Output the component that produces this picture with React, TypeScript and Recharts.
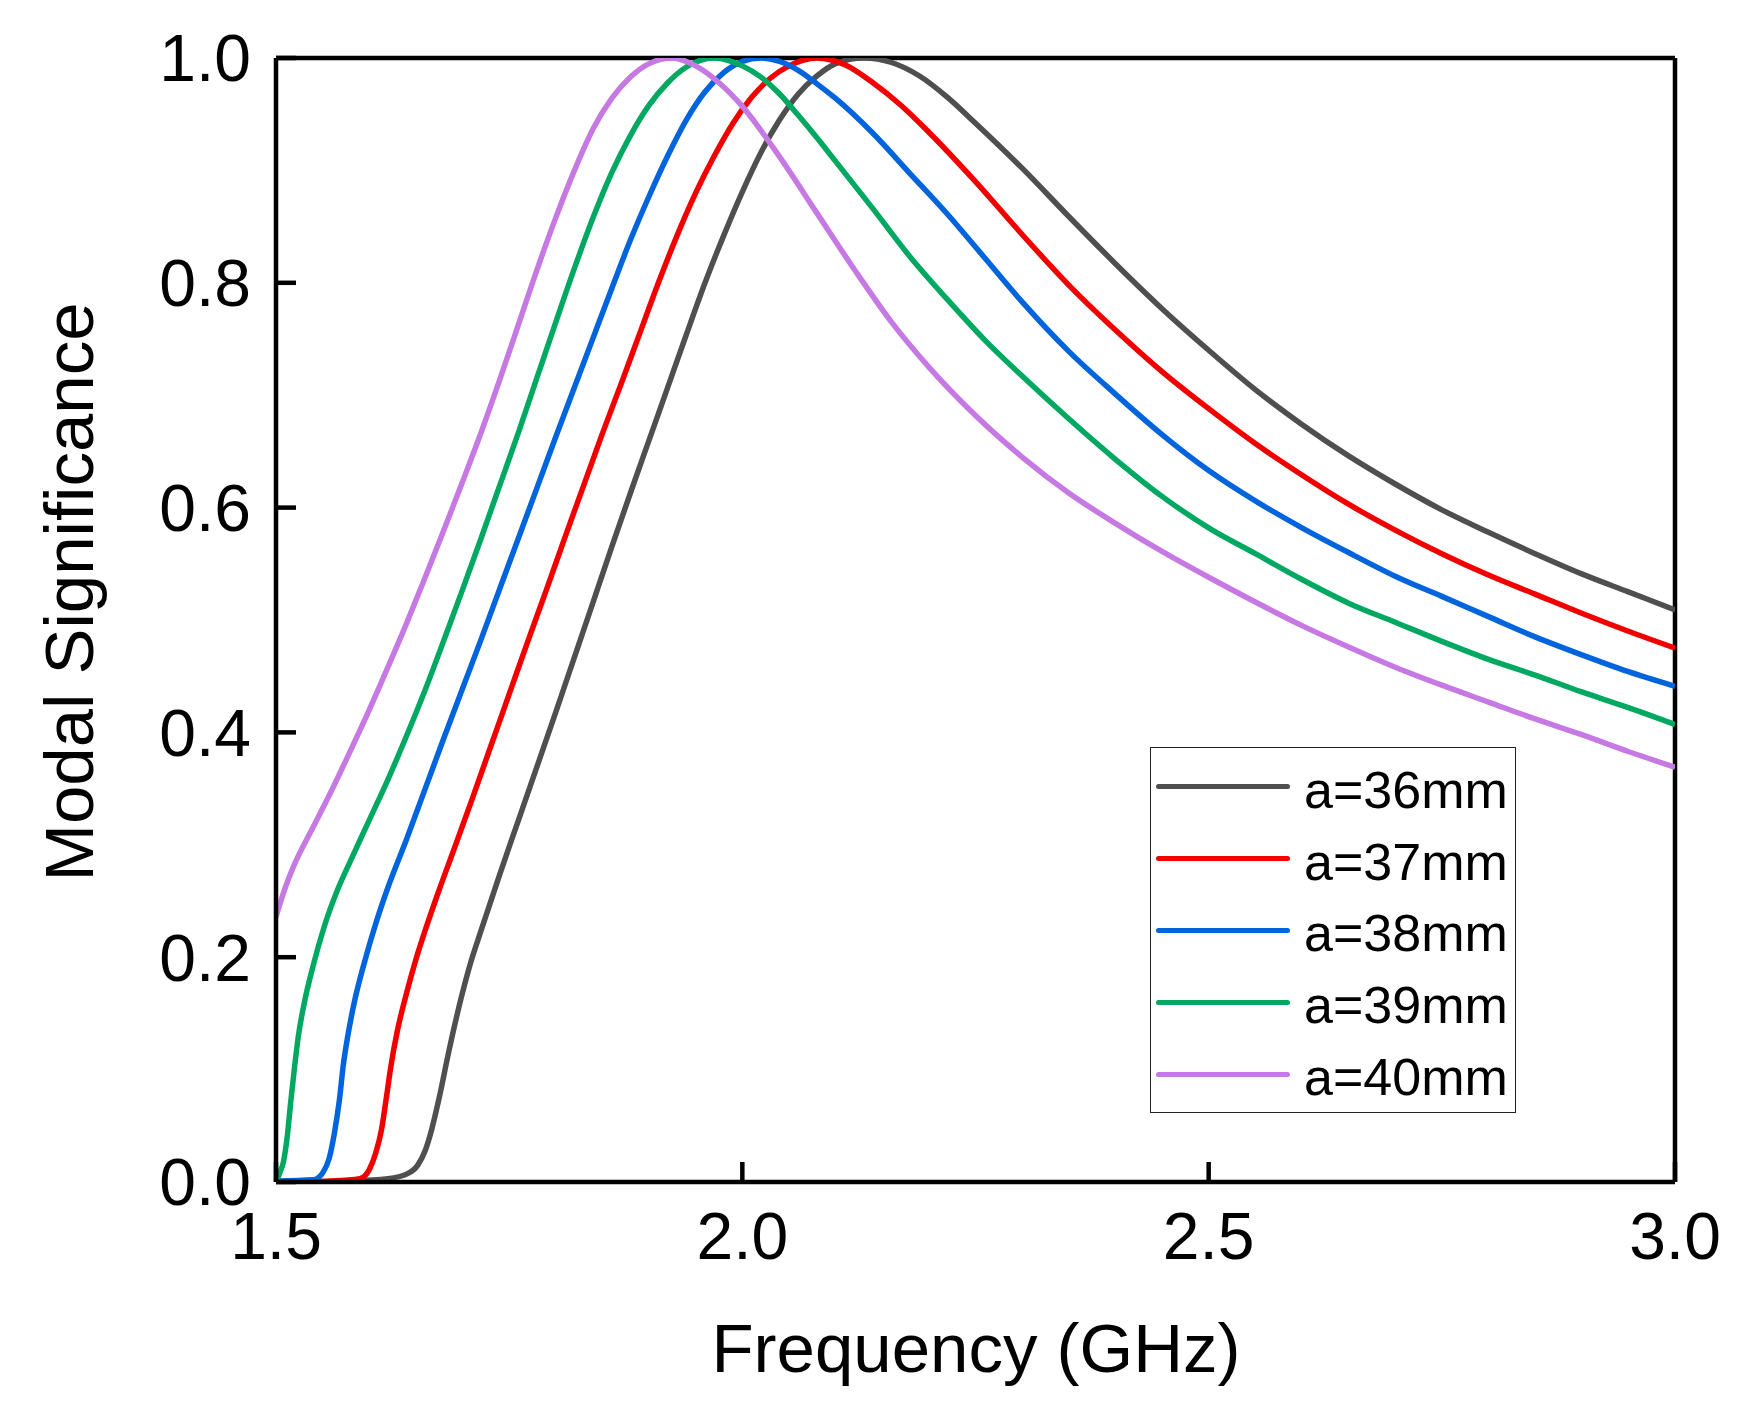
import React from "react";
import {
  LineChart,
  Line,
  XAxis,
  YAxis,
  Legend,
  ReferenceLine,
} from "recharts";

// Modal significance, one array pair per patch size
const freq36 = [1.5, 1.58, 1.62, 1.64, 1.652, 1.66, 1.667, 1.675, 1.685, 1.698, 1.709, 1.72, 1.74, 1.76, 1.78, 1.8, 1.82, 1.84, 1.86, 1.88, 1.9, 1.92, 1.94, 1.96, 1.98, 2.0, 2.02, 2.04, 2.06, 2.08, 2.1, 2.13, 2.16, 2.19, 2.22, 2.25, 2.3, 2.35, 2.4, 2.45, 2.5, 2.55, 2.6, 2.65, 2.7, 2.75, 2.8, 2.85, 2.9, 2.95, 3.0];
const ms36 = [0.0, 0.001, 0.003, 0.007, 0.015, 0.028, 0.047, 0.075, 0.115, 0.162, 0.196, 0.224, 0.274, 0.322, 0.37, 0.418, 0.467, 0.516, 0.565, 0.613, 0.66, 0.707, 0.754, 0.8, 0.842, 0.881, 0.916, 0.945, 0.968, 0.984, 0.995, 1.0, 0.996, 0.984, 0.965, 0.942, 0.902, 0.859, 0.817, 0.777, 0.74, 0.705, 0.674, 0.646, 0.621, 0.598, 0.578, 0.559, 0.541, 0.525, 0.509];

const freq37 = [1.5, 1.56, 1.59, 1.6, 1.607, 1.613, 1.618, 1.623, 1.63, 1.64, 1.65, 1.66, 1.675, 1.69, 1.71, 1.73, 1.75, 1.77, 1.79, 1.81, 1.83, 1.85, 1.87, 1.89, 1.91, 1.93, 1.95, 1.97, 1.99, 2.01, 2.03, 2.05, 2.08, 2.11, 2.14, 2.17, 2.2, 2.25, 2.3, 2.35, 2.4, 2.45, 2.5, 2.55, 2.6, 2.65, 2.7, 2.75, 2.8, 2.85, 2.9, 2.95, 3.0];
const ms37 = [0.0, 0.001, 0.003, 0.011, 0.026, 0.046, 0.073, 0.102, 0.134, 0.168, 0.198, 0.224, 0.26, 0.294, 0.34, 0.387, 0.434, 0.481, 0.527, 0.574, 0.62, 0.666, 0.71, 0.755, 0.8, 0.842, 0.88, 0.913, 0.942, 0.965, 0.982, 0.993, 1.0, 0.994, 0.978, 0.958, 0.934, 0.89, 0.843, 0.798, 0.758, 0.721, 0.688, 0.657, 0.629, 0.603, 0.58, 0.559, 0.54, 0.523, 0.506, 0.49, 0.475];

const freq38 = [1.5, 1.54, 1.55, 1.557, 1.5625, 1.568, 1.572, 1.577, 1.584, 1.595, 1.607, 1.62, 1.64, 1.66, 1.68, 1.7, 1.72, 1.74, 1.76, 1.78, 1.8, 1.82, 1.84, 1.86, 1.88, 1.9, 1.92, 1.94, 1.96, 1.98, 2.0, 2.02, 2.04, 2.06, 2.08, 2.1, 2.14, 2.18, 2.22, 2.26, 2.3, 2.35, 2.4, 2.45, 2.5, 2.55, 2.6, 2.65, 2.7, 2.75, 2.8, 2.85, 2.9, 2.95, 3.0];
const ms38 = [0.001, 0.002, 0.008, 0.021, 0.043, 0.073, 0.103, 0.13, 0.16, 0.196, 0.23, 0.262, 0.305, 0.35, 0.395, 0.439, 0.483, 0.528, 0.573, 0.618, 0.663, 0.707, 0.751, 0.795, 0.838, 0.877, 0.913, 0.945, 0.97, 0.987, 0.997, 1.0, 0.997, 0.989, 0.977, 0.964, 0.933, 0.897, 0.861, 0.822, 0.783, 0.739, 0.701, 0.665, 0.633, 0.606, 0.582, 0.56, 0.539, 0.521, 0.503, 0.485, 0.469, 0.454, 0.441];

const freq39 = [1.5, 1.504, 1.508, 1.512, 1.516, 1.52, 1.524, 1.53, 1.54, 1.552, 1.566, 1.58, 1.6, 1.62, 1.64, 1.66, 1.68, 1.7, 1.72, 1.74, 1.76, 1.78, 1.8, 1.82, 1.84, 1.86, 1.88, 1.9, 1.92, 1.94, 1.97, 2.0, 2.02, 2.04, 2.06, 2.08, 2.1, 2.14, 2.18, 2.22, 2.26, 2.3, 2.35, 2.4, 2.45, 2.5, 2.55, 2.6, 2.65, 2.7, 2.75, 2.8, 2.85, 2.9, 2.95, 3.0];
const ms39 = [0.0, 0.008, 0.018, 0.04, 0.073, 0.103, 0.13, 0.158, 0.193, 0.228, 0.26, 0.286, 0.322, 0.358, 0.397, 0.438, 0.482, 0.527, 0.573, 0.62, 0.667, 0.716, 0.765, 0.813, 0.858, 0.898, 0.931, 0.958, 0.978, 0.992, 1.0, 0.993, 0.983, 0.968, 0.949, 0.929, 0.908, 0.866, 0.823, 0.785, 0.749, 0.717, 0.679, 0.643, 0.61, 0.582, 0.559, 0.536, 0.515, 0.498, 0.481, 0.465, 0.451, 0.436, 0.422, 0.407];

const freq40 = [1.5, 1.51, 1.52, 1.54, 1.56, 1.58, 1.6, 1.62, 1.64, 1.66, 1.68, 1.7, 1.72, 1.74, 1.76, 1.78, 1.8, 1.82, 1.84, 1.86, 1.88, 1.9, 1.925, 1.95, 1.975, 2.0, 2.04, 2.08, 2.12, 2.16, 2.2, 2.25, 2.3, 2.35, 2.4, 2.45, 2.5, 2.55, 2.6, 2.65, 2.7, 2.75, 2.8, 2.85, 2.9, 2.95, 3.0];
const ms40 = [0.236, 0.262, 0.283, 0.316, 0.349, 0.384, 0.42, 0.458, 0.497, 0.538, 0.58, 0.623, 0.667, 0.714, 0.763, 0.812, 0.858, 0.9, 0.937, 0.964, 0.983, 0.995, 1.0, 0.993, 0.978, 0.957, 0.912, 0.862, 0.812, 0.765, 0.725, 0.682, 0.645, 0.613, 0.586, 0.561, 0.538, 0.516, 0.495, 0.476, 0.458, 0.442, 0.427, 0.412, 0.398, 0.383, 0.369];

const xTicks = [1.5, 2.0, 2.5, 3.0];
const yTicks = [0, 0.2, 0.4, 0.6, 0.8, 1.0];

const FONT = "'Liberation Sans', Arial, sans-serif";

const series = [
  { name: "a=36mm", color: "#4f4f4f", freq: freq36, ms: ms36 },
  { name: "a=37mm", color: "#f20000", freq: freq37, ms: ms37 },
  { name: "a=38mm", color: "#0064dc", freq: freq38, ms: ms38 },
  { name: "a=39mm", color: "#00a862", freq: freq39, ms: ms39 },
  { name: "a=40mm", color: "#c679e3", freq: freq40, ms: ms40 },
].map((s) => ({
  ...s,
  data: s.freq.map((f, i) => ({ f, v: s.ms[i] })),
}));

function LegendBox() {
  return (
    <div
      style={{
        width: 366,
        height: 366,
        boxSizing: "border-box",
        border: "1.5px solid #222",
        background: "#fff",
        paddingTop: 3,
        fontFamily: FONT,
      }}
    >
      {series.map((s) => (
        <div
          key={s.name}
          style={{ display: "flex", alignItems: "center", height: 71.8 }}
        >
          <div
            style={{
              marginLeft: 5,
              width: 134,
              height: 5,
              borderRadius: 2.5,
              background: s.color,
            }}
          />
          <span
            style={{
              marginLeft: 14,
              fontSize: 52,
              color: "#000",
              position: "relative",
              top: 3,
              lineHeight: 1,
            }}
          >
            {s.name}
          </span>
        </div>
      ))}
    </div>
  );
}

export default function App() {
  return (
    <div
      style={{
        position: "absolute",
        left: 0,
        top: 0,
        width: 1745,
        height: 1416,
        background: "#fff",
      }}
    >
      <LineChart
        width={1745}
        height={1416}
        margin={{ top: 58, right: 70, left: 176, bottom: 114 }}
      >
        <XAxis
          type="number"
          dataKey="f"
          domain={[1.5, 3.0]}
          ticks={xTicks}
          allowDataOverflow
          height={120}
          tickFormatter={(v: number) => v.toFixed(1)}
          tick={{ fill: "#000", fontSize: 66, fontFamily: FONT }}
          tickSize={-20}
          tickMargin={50}
          axisLine={{ stroke: "#000", strokeWidth: 4.5 }}
          tickLine={{ stroke: "#000", strokeWidth: 4.5 }}
        />
        <YAxis
          type="number"
          domain={[0, 1]}
          ticks={yTicks}
          allowDataOverflow
          width={100}
          tickFormatter={(v: number) => v.toFixed(1)}
          tick={{ fill: "#000", fontSize: 66, fontFamily: FONT }}
          tickSize={-20}
          tickMargin={45}
          axisLine={{ stroke: "#000", strokeWidth: 4.5 }}
          tickLine={{ stroke: "#000", strokeWidth: 4.5 }}
        />
        <ReferenceLine y={1} stroke="#000" strokeWidth={4.5} />
        <ReferenceLine x={3} stroke="#000" strokeWidth={4.5} />
        {series.map((s) => (
          <Line
            key={s.name}
            data={s.data}
            dataKey="v"
            name={s.name}
            type="monotone"
            stroke={s.color}
            strokeWidth={5.5}
            dot={false}
            activeDot={false}
            isAnimationActive={false}
          />
        ))}
        <Legend
          layout="vertical"
          align="center"
          verticalAlign="middle"
          content={() => <LegendBox />}
          wrapperStyle={{ left: 1150, top: 747, width: 366, height: 366 }}
        />
      </LineChart>
      {/* axis titles */}
      <svg
        width={1745}
        height={1416}
        style={{ position: "absolute", left: 0, top: 0, pointerEvents: "none" }}
      >
        <text
          x={976}
          y={1372}
          textAnchor="middle"
          fontSize={69}
          fontFamily={FONT}
          fill="#000"
        >
          Frequency (GHz)
        </text>
        <text
          x={93}
          y={592}
          transform="rotate(-90 93 592)"
          textAnchor="middle"
          fontSize={69}
          fontFamily={FONT}
          fill="#000"
        >
          Modal Significance
        </text>
      </svg>
    </div>
  );
}
